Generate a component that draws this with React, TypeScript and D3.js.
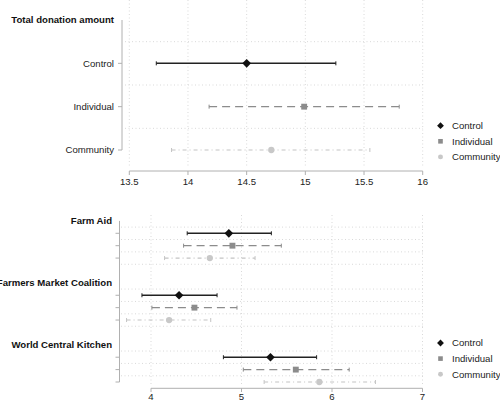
import React from "react";
import * as d3 from "d3";

const groups = ["Control", "Individual", "Community"];
const totalPoint = [14.5, 14.99, 14.71];
const totalLower = [13.73, 14.18, 13.86];
const totalUpper = [15.26, 15.8, 15.55];
const totalTicks = [13.5, 14, 14.5, 15, 15.5, 16];

const charities = ["Farm Aid", "Farmers Market Coalition", "World Central Kitchen"];
// rows: charity x group
const charityPoint = [
  [4.86, 4.9, 4.65],
  [4.31, 4.48, 4.2],
  [5.32, 5.6, 5.86],
];
const charityLower = [
  [4.4, 4.36, 4.15],
  [3.9, 4.01, 3.73],
  [4.8, 5.02, 5.25],
];
const charityUpper = [
  [5.33, 5.44, 5.15],
  [4.73, 4.95, 4.66],
  [5.83, 6.19, 6.48],
];
const charityTicks = [4, 5, 6, 7];

const lineColor = ["#222222", "#8c8c8c", "#c4c4c4"];
const markColor = ["#111111", "#8c8c8c", "#c8c8c8"];
const dash = ["none", "8,5", "4,3,1,3"];
const lineW = [1.5, 1.3, 1.1];
const FONT = "'Liberation Sans', Arial, Helvetica, sans-serif";
const FS = 9.6;
const gridColor = "#d9d9d9";
const axisColor = "#b0b0b0";

function Marker({ g, x, y, s }: { g: number; x: number; y: number; s: number }) {
  if (g === 0) {
    const h = s * 0.62;
    return (
      <path
        d={`M${x},${y - h} L${x + h},${y} L${x},${y + h} L${x - h},${y} Z`}
        fill={markColor[0]}
      />
    );
  }
  if (g === 1) {
    const h = s * 0.42;
    return <rect x={x - h} y={y - h} width={2 * h} height={2 * h} fill={markColor[1]} />;
  }
  return <circle cx={x} cy={y} r={s * 0.45} fill={markColor[2]} />;
}

function CI({ g, lo, hi, pt, y, x }: { g: number; lo: number; hi: number; pt: number; y: number; x: d3.ScaleLinear<number, number> }) {
  return (
    <g>
      <line x1={x(lo)} x2={x(hi)} y1={y} y2={y} stroke={lineColor[g]} strokeWidth={lineW[g]} strokeDasharray={dash[g]} />
      <line x1={x(lo)} x2={x(lo)} y1={y - 2} y2={y + 2} stroke={lineColor[g]} strokeWidth={1} />
      <line x1={x(hi)} x2={x(hi)} y1={y - 2} y2={y + 2} stroke={lineColor[g]} strokeWidth={1} />
      <Marker g={g} x={x(pt)} y={y} s={7} />
    </g>
  );
}

function Legend({ y0 }: { y0: number }) {
  return (
    <g>
      {groups.map((name, i) => (
        <g key={name}>
          <Marker g={i} x={440.5} y={y0 + i * 15.6} s={5.5} />
          <text x={452} y={y0 + i * 15.6} dy="0.35em" fontSize={FS} fontFamily={FONT} fill="#222">
            {name}
          </text>
        </g>
      ))}
    </g>
  );
}

export default function App() {
  // top panel
  const xTop = d3.scaleLinear().domain([13.5, 16]).range([129.3, 422.7]);
  const yTop = d3.scaleLinear().domain([0, 3]).range([20, 150]);
  const topRows = [1, 2, 3];
  const topGrid = [0.5, 1.5, 2.5];

  // bottom panel
  const xBot = d3.scaleLinear().domain([4, 7]).range([151, 422.5]);
  const yBot = d3.scaleLinear().domain([0, 13]).range([220.9, 382]);
  const botGrid = [0.5, 1.5, 2.5, 3.5, 5.5, 6.5, 7.5, 8.5, 10.5, 11.5, 12.5];

  return (
    <svg
      width={500}
      height={402}
      style={{ position: "absolute", left: 0, top: 0, background: "#fff" }}
      fontFamily={FONT}
    >
      <rect width={500} height={402} fill="#fff" />
      {/* ---------- top panel ---------- */}
      {totalTicks.map((t) => (
        <line key={"tv" + t} x1={xTop(t)} x2={xTop(t)} y1={0} y2={168} stroke={gridColor} strokeDasharray="1,2.5" />
      ))}
      {topGrid.map((r) => (
        <line key={"th" + r} x1={125} x2={423} y1={yTop(r)} y2={yTop(r)} stroke={gridColor} strokeDasharray="1,2.5" />
      ))}
      <line x1={122} x2={122} y1={yTop(0)} y2={yTop(3)} stroke={axisColor} strokeWidth={1} />
      {topRows.map((r, i) => (
        <g key={"tr" + r}>
          <line x1={118} x2={122} y1={yTop(r)} y2={yTop(r)} stroke={axisColor} />
          <text x={114} y={yTop(r)} dy="0.35em" textAnchor="end" fontSize={FS} fill="#222">
            {groups[i]}
          </text>
        </g>
      ))}
      <text x={114} y={yTop(0)} dy="0.35em" textAnchor="end" fontSize={FS} fontWeight="bold" fill="#111">
        Total donation amount
      </text>
      <line x1={xTop(13.5)} x2={xTop(16)} y1={171} y2={171} stroke={axisColor} />
      {totalTicks.map((t) => (
        <g key={"tt" + t}>
          <line x1={xTop(t)} x2={xTop(t)} y1={171} y2={175} stroke={axisColor} />
          <text x={xTop(t)} y={182} dy="0.35em" textAnchor="middle" fontSize={FS} fill="#222">
            {t}
          </text>
        </g>
      ))}
      {groups.map((_, g) => (
        <CI key={"tci" + g} g={g} lo={totalLower[g]} hi={totalUpper[g]} pt={totalPoint[g]} y={yTop(g + 1)} x={xTop} />
      ))}
      <Legend y0={125.7} />

      {/* ---------- bottom panel ---------- */}
      {charityTicks.map((t) => (
        <line key={"bv" + t} x1={xBot(t)} x2={xBot(t)} y1={215} y2={386} stroke={gridColor} strokeDasharray="1,2.5" />
      ))}
      {botGrid.map((r) => (
        <line key={"bh" + r} x1={121} x2={423} y1={yBot(r)} y2={yBot(r)} stroke={gridColor} strokeDasharray="1,2.5" />
      ))}
      <line x1={119.5} x2={119.5} y1={yBot(0)} y2={yBot(13)} stroke={axisColor} />
      {charities.map((c, ci) => (
        <g key={c}>
          <text x={112} y={yBot(ci * 5)} dy="0.35em" textAnchor="end" fontSize={FS} fontWeight="bold" fill="#111">
            {c}
          </text>
          {groups.map((_, g) => (
            <g key={c + g}>
              <line x1={115.5} x2={119.5} y1={yBot(ci * 5 + g + 1)} y2={yBot(ci * 5 + g + 1)} stroke={axisColor} />
              <CI
                g={g}
                lo={charityLower[ci][g]}
                hi={charityUpper[ci][g]}
                pt={charityPoint[ci][g]}
                y={yBot(ci * 5 + g + 1)}
                x={xBot}
              />
            </g>
          ))}
        </g>
      ))}
      <line x1={xBot(4)} x2={xBot(7)} y1={388.3} y2={388.3} stroke={axisColor} />
      {charityTicks.map((t) => (
        <g key={"bt" + t}>
          <line x1={xBot(t)} x2={xBot(t)} y1={388.3} y2={392} stroke={axisColor} />
          <text x={xBot(t)} y={397} dy="0.35em" textAnchor="middle" fontSize={FS} fill="#222">
            {t}
          </text>
        </g>
      ))}
      <Legend y0={343} />
    </svg>
  );
}
